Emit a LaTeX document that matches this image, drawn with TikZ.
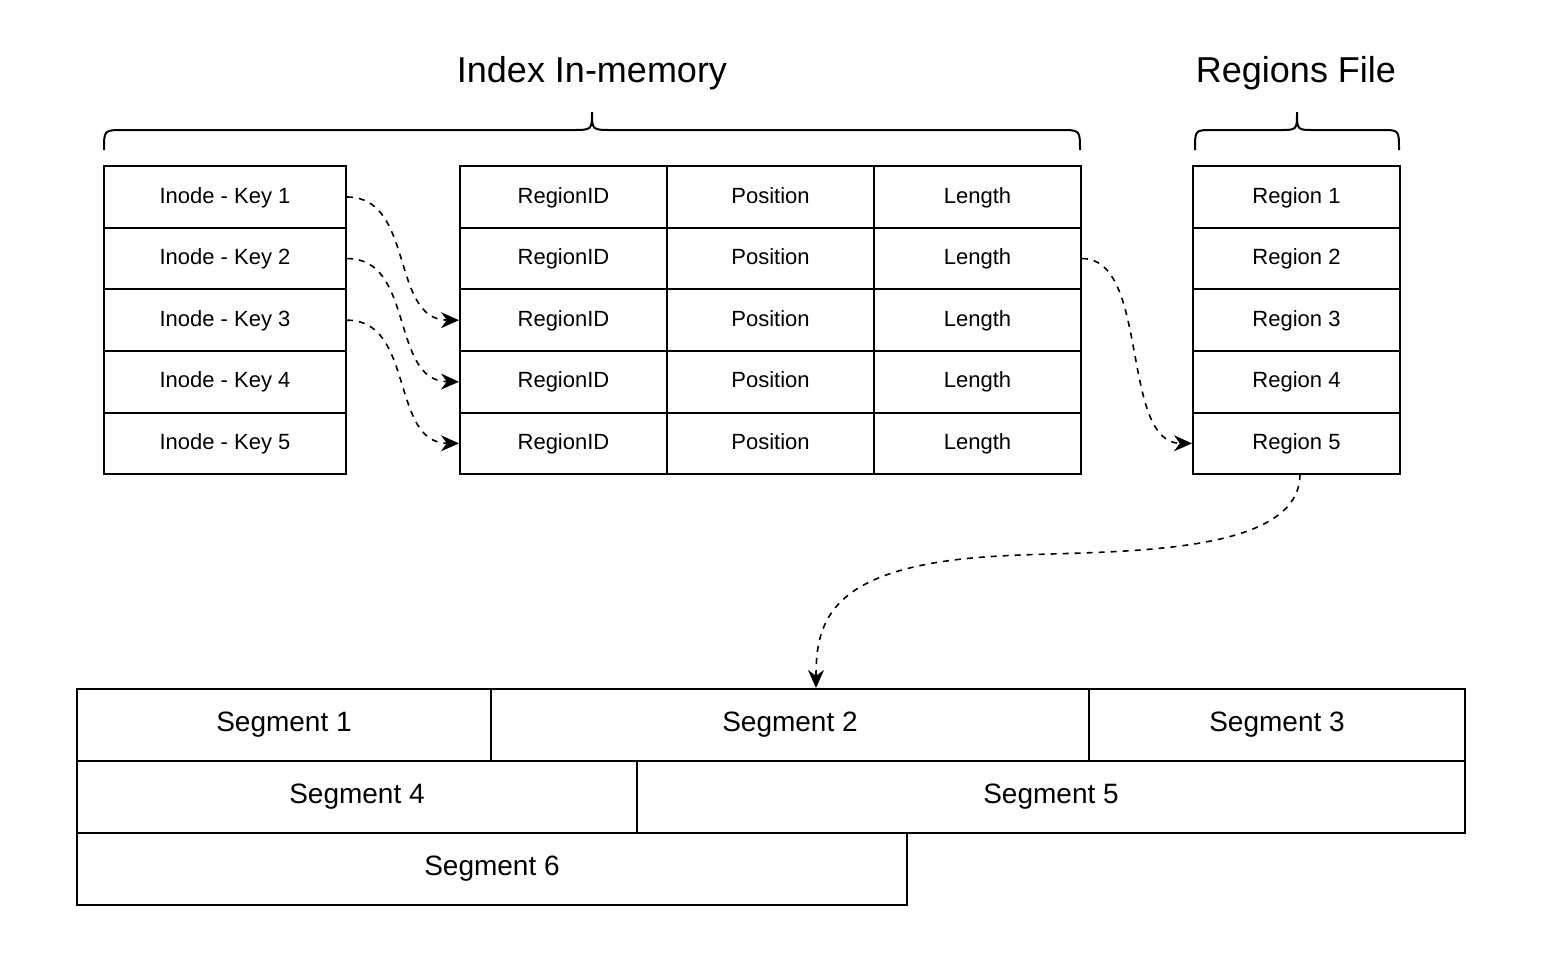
\documentclass[tikz,border=0pt]{standalone}
\usepackage{fontspec}
\setmainfont{Liberation Sans}
\usetikzlibrary{arrows.meta,positioning}

\tikzset{
  cell/.style={draw, line width=1pt, minimum height=30.8pt, inner sep=0pt, text height=8pt, text depth=2pt, font=\fontsize{11}{13}\selectfont},
  keycell/.style={cell, minimum width=121pt},
  idxcell/.style={cell, minimum width=103.5pt},
  regcell/.style={cell, minimum width=103.5pt},
  segcell/.style={draw, line width=1pt, minimum height=36pt, inner sep=0pt, anchor=north west, font=\fontsize{14}{16}\selectfont},
  link/.style={dashed, line width=0.8pt, -{Stealth[length=9pt,width=8pt]}},
  title/.style={font=\fontsize{18}{20}\selectfont},
  brace/.style={line width=1pt}
}

\begin{document}
\begin{tikzpicture}[x=0.5pt,y=-0.5pt]
    \useasboundingbox (0,0) rectangle (1544,970);

    % Titles and braces
    \node[title] (tindex) at (592,73) {Index In-memory};
    \node[title] (tregion) at (1296,73) {Regions File};
    \draw[brace] (104,150) .. controls (104,130) .. (124,130) -- (572,130)
        .. controls (592,130) .. (592,112) .. controls (592,130) .. (612,130)
        -- (1060,130) .. controls (1080,130) .. (1080,150);
    \draw[brace] (1195,150) .. controls (1195,130) .. (1212,130) -- (1280,130)
        .. controls (1297,130) .. (1297,112) .. controls (1297,130) .. (1314,130)
        -- (1382,130) .. controls (1399,130) .. (1399,150);

    % Tables
    \foreach \i in {1,...,5} {
        \pgfmathsetmacro{\ry}{197+61.6*(\i-1)}
        \node[keycell] (key\i) at (225,\ry) {Inode - Key \i};
        \node[idxcell] (rid\i) at (563.5,\ry) {RegionID};
        \node[idxcell] (pos\i) at (770.5,\ry) {Position};
        \node[idxcell] (len\i) at (977.5,\ry) {Length};
        \node[regcell] (reg\i) at (1296.5,\ry) {Region \i};
    }

    % Segments
    \node[segcell, minimum width=207pt] (seg1) at (76,688) {Segment 1};
    \node[segcell, minimum width=299pt] (seg2) at (490,688) {Segment 2};
    \node[segcell, minimum width=188pt] (seg3) at (1088,688) {Segment 3};
    \node[segcell, minimum width=280pt] (seg4) at (76,760) {Segment 4};
    \node[segcell, minimum width=414pt] (seg5) at (636,760) {Segment 5};
    \node[segcell, minimum width=415pt] (seg6) at (76,832) {Segment 6};

    % Links
    \draw[link] (key1.east) .. controls (415,197) and (390,320) .. (rid3.west);
    \draw[link] (key2.east) .. controls (415,258) and (390,381) .. (rid4.west);
    \draw[link] (key3.east) .. controls (415,320) and (390,443) .. (rid5.west);
    \draw[link] (len2.east) .. controls (1150,258) and (1120,443) .. (reg5.west);
    \coordinate (seg2top) at (816,688);
    \draw[link] (1300,474) .. controls (1300,560) and (1100,550) .. (1000,556)
        .. controls (830,565) and (816,620) .. (seg2top);
\end{tikzpicture}
\end{document}
